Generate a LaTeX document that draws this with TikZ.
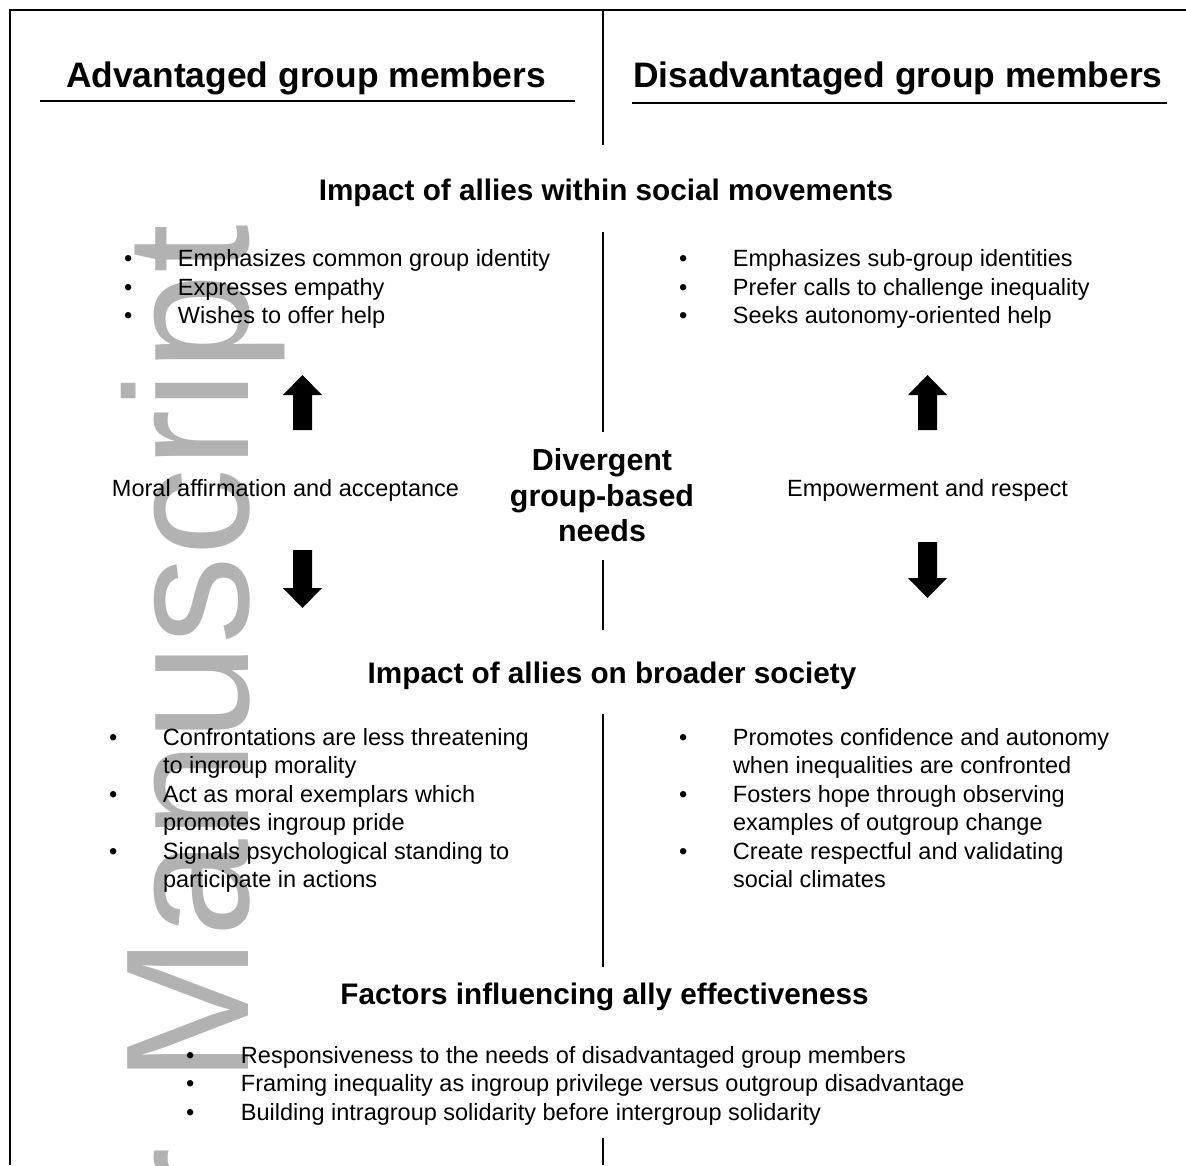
\documentclass[tikz,border=0pt]{standalone}
\usepackage{fontspec}
\setmainfont{Liberation Sans}
\definecolor{markgray}{RGB}{178,178,178}

\begin{document}
\begin{tikzpicture}[x=0.5pt, y=-0.5pt,
	every node/.style={inner sep=0pt, outer sep=0pt},
	title/.style={font=\fontsize{17.7}{21}\selectfont\bfseries, anchor=base},
	section/.style={font=\fontsize{14.85}{17.75}\selectfont\bfseries, anchor=base},
	body/.style={font=\fontsize{11.75}{14.25}\selectfont},
	bullets/.style={body, anchor=base west},
	rule/.style={draw=black, line width=1pt},
	divider/.style={draw=black, line width=1.3pt}]
	\useasboundingbox (0,0) rectangle (1186,1165);
	% watermark
	\begin{scope}
		\clip (0,0) rectangle (1186,1165);
		\node[rotate=90, anchor=base east, text=markgray, font=\fontsize{87.8}{100}\selectfont] (mark) at (248,224.5) {r\hspace{8pt} Manuscript};
	\end{scope}
	% frame and middle divider
	\draw[rule] (1186,10) -- (10,10) -- (10,1165);
	\foreach \a/\b in {10/145, 232/432, 560/630, 714/967, 1138/1165}
		\draw[divider] (603,\a) -- (603,\b);
	% column titles
	\node[title] (advTitle) at (306,88) {Advantaged group members};
	\node[title] (disTitle) at (898,88) {Disadvantaged group members};
	\draw[rule] (40,101) -- (575,101);
	\draw[rule] (632,103) -- (1167,103);
	% within social movements
	\node[section] (withinHead) at (606,200.5) {Impact of allies within social movements};
	\node[bullets] (withinAdv) at (124,267) {\begin{tabular}[t]{@{}p{27pt}@{}l@{}}
		\textbullet & Emphasizes common group identity\\
		\textbullet & Expresses empathy\\
		\textbullet & Wishes to offer help
	\end{tabular}};
	\node[bullets] (withinDis) at (679,267) {\begin{tabular}[t]{@{}p{27pt}@{}l@{}}
		\textbullet & Emphasizes sub-group identities\\
		\textbullet & Prefer calls to challenge inequality\\
		\textbullet & Seeks autonomy-oriented help
	\end{tabular}};
	% needs
	\fill (302.5,375) -- (322,395) -- (312,395) -- (312,430) -- (293,430) -- (293,395) -- (283,395) -- cycle;
	\fill (302.5,608) -- (322,588) -- (312,588) -- (312,550) -- (293,550) -- (293,588) -- (283,588) -- cycle;
	\fill (927.5,375) -- (947,395) -- (937,395) -- (937,430) -- (918,430) -- (918,395) -- (908,395) -- cycle;
	\fill (927.5,598) -- (947,578) -- (937,578) -- (937,542) -- (918,542) -- (918,578) -- (908,578) -- cycle;
	\node[body, anchor=base] (moral) at (285.5,496.5) {Moral affirmation and acceptance};
	\node[body, anchor=base] (empower) at (927.5,496.5) {Empowerment and respect};
	\node[anchor=base, font=\fontsize{15.2}{17.75}\selectfont\bfseries] (needs) at (602,470.5) {\begin{tabular}[t]{@{}c@{}}
		Divergent\\ group-based\\ needs
	\end{tabular}};
	% broader society
	\node[section] (societyHead) at (612,683.5) {Impact of allies on broader society};
	\node[bullets] (societyAdv) at (109,745) {\begin{tabular}[t]{@{}p{27pt}@{}l@{}}
		\textbullet & Confrontations are less threatening\\
		& to ingroup morality\\
		\textbullet & Act as moral exemplars which\\
		& promotes ingroup pride\\
		\textbullet & Signals psychological standing to\\
		& participate in actions
	\end{tabular}};
	\node[bullets] (societyDis) at (679,745) {\begin{tabular}[t]{@{}p{27pt}@{}l@{}}
		\textbullet & Promotes confidence and autonomy\\
		& when inequalities are confronted\\
		\textbullet & Fosters hope through observing\\
		& examples of outgroup change\\
		\textbullet & Create respectful and validating\\
		& social climates
	\end{tabular}};
	% factors
	\node[section] (factorsHead) at (604.5,1004) {Factors influencing ally effectiveness};
	\node[bullets] (factors) at (186,1063) {\begin{tabular}[t]{@{}p{27.5pt}@{}l@{}}
		\textbullet & Responsiveness to the needs of disadvantaged group members\\
		\textbullet & Framing inequality as ingroup privilege versus outgroup disadvantage\\
		\textbullet & Building intragroup solidarity before intergroup solidarity
	\end{tabular}};
\end{tikzpicture}
\end{document}
